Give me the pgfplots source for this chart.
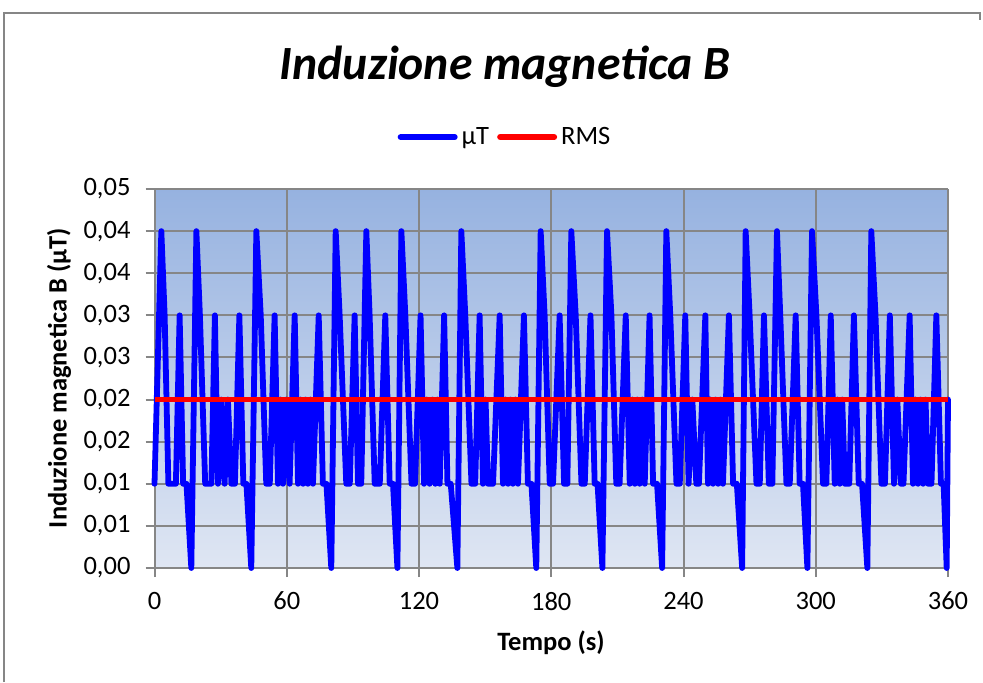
\documentclass[border=0pt]{standalone}
\usepackage{pgfplots}
\pgfplotsset{compat=1.18}
\usepackage{fontspec}
\setmainfont{Carlito}

\definecolor{gridgray}{RGB}{134,134,134}
\definecolor{bgtop}{RGB}{150,178,224}
\definecolor{bgbot}{RGB}{223,230,243}

\newcommand{\ticksize}{\fontsize{13.25}{15}\selectfont}

\begin{document}
\begin{tikzpicture}[x=0.5pt,y=0.5pt]
\useasboundingbox (0,0) rectangle (983,682);
% chart frame
\draw[gridgray, line width=1pt] (4,0) -- (4,669) -- (980,669) -- (980,662);

% title
\node[font=\fontsize{23.85}{28}\selectfont\bfseries\itshape] at (505,615) {Induzione magnetica B};

\begin{axis}[
  at={(77.25pt,57pt)}, anchor=south west,
  scale only axis,
  width=396.75pt, height=189.5pt,
  xmin=0, xmax=360, ymin=0, ymax=0.045,
  scaled y ticks=false,
  axis background/.style={top color=bgtop, bottom color=bgbot},
  axis x line*=bottom, axis y line*=left,
  axis line style={gridgray, line width=1pt},
  xtick={0,60,...,360},
  xticklabels={0,60,120,180,240,300,360},
  ytick={0,0.005,0.01,0.015,0.02,0.025,0.03,0.035,0.04,0.045},
  yticklabels={{0,00},{0,01},{0,01},{0,02},{0,02},{0,03},{0,03},{0,04},{0,04},{0,05}},
  tick align=outside,
  major tick length=4.5pt,
  tick style={gridgray, line width=1pt},
  tick label style={font=\ticksize},
  ticklabel shift=4pt,
  grid=major,
  major grid style={gridgray, line width=1pt},
  clip=false,
  legend style={at={(0.443,1.137)}, anchor=center, draw=none, fill=none,
    font=\ticksize, legend columns=2,
    /tikz/every even column/.append style={column sep=2pt}},
  legend image code/.code={\draw[#1, line width=3pt, line cap=round] (0pt,0pt) -- (27pt,0pt);},
]
\addplot[blue, line width=2.9pt, line join=round, line cap=round] coordinates {
(0,0.01) (3.1,0.04) (4.6,0.03) (6.3,0.01) (9.7,0.01) (11.4,0.03) (13.0,0.01) (14.5,0.01)
(16.7,0) (19.0,0.04) (20.6,0.03) (23.0,0.01) (25.8,0.01) (27.4,0.03) (28.8,0.01) (30.3,0.02)
(31.8,0.01) (33.3,0.02) (34.9,0.01) (36.5,0.01) (38.5,0.03) (40.3,0.01) (41.7,0.01) (43.9,0)
(46.2,0.04) (48.2,0.03) (50.7,0.01) (52.3,0.01) (54.5,0.03) (56.0,0.01) (57.2,0.02) (58.3,0.01)
(59.8,0.02) (61.3,0.01) (63.6,0.03) (65.1,0.01) (66.3,0.02) (67.4,0.01) (68.5,0.02) (69.6,0.01)
(70.8,0.02) (71.9,0.01) (74.5,0.03) (76.4,0.01) (78.0,0.01) (80.2,0) (82.2,0.04) (84.0,0.03)
(87.0,0.01) (88.6,0.01) (90.8,0.03) (92.3,0.01) (93.8,0.01) (96.1,0.04) (97.6,0.03) (99.9,0.01)
(102.2,0.01) (104.7,0.03) (106.7,0.01) (108.2,0.01) (110.2,0) (112.0,0.04) (113.8,0.03) (116.6,0.01)
(118.2,0.01) (120.7,0.03) (122.3,0.01) (123.5,0.02) (124.8,0.01) (126.1,0.02) (127.4,0.01) (128.4,0.02)
(129.4,0.01) (131.4,0.03) (132.9,0.01) (134.4,0.01) (137.4,0) (139.2,0.04) (141.0,0.03) (143.8,0.01)
(145.5,0.01) (147.5,0.03) (149.0,0.01) (150.2,0.02) (151.3,0.01) (153.6,0.01) (156.6,0.03) (158.1,0.01)
(159.3,0.02) (160.4,0.01) (161.5,0.02) (162.6,0.01) (163.8,0.02) (164.9,0.01) (167.6,0.03) (169.4,0.01)
(171.0,0.01) (173.2,0) (175.2,0.04) (177.0,0.03) (179.3,0.01) (180.8,0.01) (183.8,0.03) (185.8,0.01)
(187.3,0.01) (189.1,0.04) (191.1,0.03) (193.7,0.01) (195.2,0.01) (197.8,0.03) (199.7,0.01) (201.0,0.01)
(203.2,0) (205.3,0.04) (207.3,0.03) (209.5,0.01) (211.0,0.01) (213.8,0.03) (215.6,0.01) (216.8,0.02)
(217.9,0.01) (219.0,0.02) (220.1,0.01) (221.3,0.02) (222.4,0.01) (224.6,0.03) (226.2,0.01) (228.0,0.01)
(230.3,0) (232.2,0.04) (234.0,0.03) (236.8,0.01) (238.3,0.01) (240.8,0.03) (242.3,0.01) (244.0,0.02)
(245.8,0.01) (247.0,0.01) (249.9,0.03) (251.1,0.01) (252.2,0.02) (253.4,0.01) (254.5,0.02) (255.7,0.01)
(256.8,0.02) (257.9,0.01) (260.6,0.03) (262.5,0.01) (264.2,0.01) (266.6,0) (268.2,0.04) (270.0,0.03)
(273.1,0.01) (274.6,0.01) (276.5,0.03) (278.7,0.01) (280.3,0.01) (282.4,0.04) (283.9,0.03) (286.7,0.01)
(288.2,0.01) (290.9,0.03) (292.7,0.01) (294.2,0.01) (296.2,0) (298.3,0.04) (300.3,0.03) (303.3,0.01)
(304.8,0.01) (306.8,0.03) (308.6,0.01) (309.8,0.02) (310.9,0.01) (312.0,0.02) (313.2,0.01) (315.2,0.01)
(317.3,0.03) (319.5,0.01) (321.0,0.01) (323.4,0) (325.2,0.04) (327.1,0.03) (329.8,0.01) (331.4,0.01)
(333.6,0.03) (335.5,0.01) (337.0,0.02) (338.6,0.01) (339.8,0.01) (342.6,0.03) (344.1,0.01) (345.2,0.02)
(346.4,0.01) (347.5,0.02) (348.7,0.01) (349.8,0.02) (351.0,0.01) (352.5,0.01) (354.7,0.03) (356.8,0.01)
(358.0,0.01) (359.4,0) (360,0.02)
};
\addlegendentry{µT}
\addplot[red, line width=2.7pt] coordinates {(0,0.02) (360,0.02)};
\addlegendentry{RMS}
\end{axis}

% axis titles
\node[font=\fontsize{13.25}{15}\selectfont\bfseries, rotate=90] at (59,304) {Induzione magnetica B (µT)};
\node[font=\fontsize{13.25}{15}\selectfont\bfseries] at (551,39) {Tempo (s)};
\end{tikzpicture}
\end{document}
